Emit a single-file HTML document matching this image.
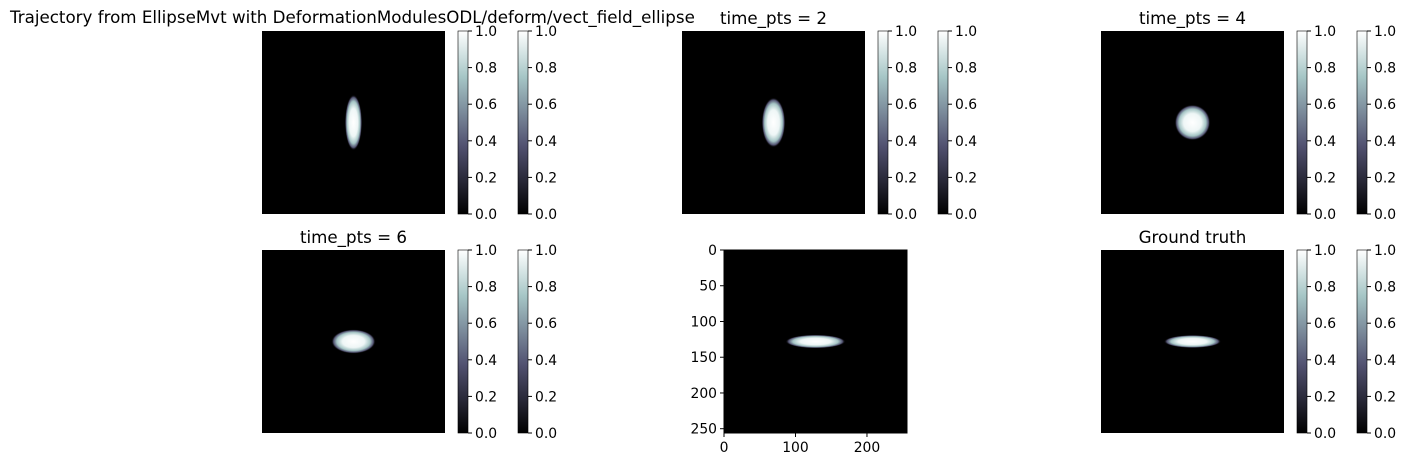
<!DOCTYPE html>
<html><head><meta charset="utf-8">
<style>
html,body{margin:0;padding:0;background:#fff;}
svg{display:block;font-family:"DejaVu Sans","Liberation Sans",sans-serif;}
</style></head>
<body>
<svg id="fig" width="1408" height="467" viewBox="0 0 1408 467" xmlns="http://www.w3.org/2000/svg">
<defs>
<linearGradient id="bone" x1="0" y1="1" x2="0" y2="0">
<stop offset="0" stop-color="#000000"/>
<stop offset="0.375" stop-color="#525271"/>
<stop offset="0.75" stop-color="#a6c6c6"/>
<stop offset="1" stop-color="#ffffff"/>
</linearGradient>
<radialGradient id="blob">
<stop offset="0" stop-color="#ffffff"/>
<stop offset="0.5" stop-color="#eef6f6"/>
<stop offset="0.75" stop-color="#a6c6c6"/>
<stop offset="0.9" stop-color="#525271"/>
<stop offset="1" stop-color="#000000" stop-opacity="0"/>
</radialGradient>
</defs>
<text x="10" y="23" font-size="16.7" fill="#000">Trajectory from EllipseMvt with DeformationModulesODL/deform/vect_field_ellipse</text>
</svg>
<script>
// panel data: title, ellipse width/height in pixels (out of 256)
const panelTitles = ["", "time_pts = 2", "time_pts = 4", "time_pts = 6", "", "Ground truth"];
const ellipseWidths = [24, 33, 50, 62, 84, 80];
const ellipseHeights = [78, 70, 50, 34, 19, 18];
const cbTicks = [0.0, 0.2, 0.4, 0.6, 0.8, 1.0];
const axisTicks = [0, 50, 100, 150, 200, 250];
const xAxisTicks = [0, 100, 200];
const imgSize = 256;

const svg = document.getElementById('fig');
const NS = 'http://www.w3.org/2000/svg';
function mk(tag, attrs){const e=document.createElementNS(NS,tag);for(const k in attrs)e.setAttribute(k,attrs[k]);svg.appendChild(e);return e;}

const colX = [262, 682, 1101];
const rowY = [31, 250];
const S = 183;
for(let i=0;i<6;i++){
  const r=Math.floor(i/3), c=i%3;
  let x0=colX[c], y0=rowY[r];
  const axes = (i===4);
  if(axes) x0 = 724;
  const sc = S/imgSize;
  const img = mk('rect',{x:x0,y:y0,width:S,height:S,fill:'#000'});
  
  
  const el = mk('ellipse',{cx:x0+128*sc,cy:y0+128*sc,rx:ellipseWidths[i]*sc/2,ry:ellipseHeights[i]*sc/2,fill:'url(#blob)'});
  
  
  if(panelTitles[i]){
    const t = mk('text',{x:x0+S/2,y:y0-7,'font-size':16.7,'text-anchor':'middle',fill:'#000'});
    t.textContent = panelTitles[i];
    
    
  }
  if(axes){
    mk('rect',{x:x0,y:y0,width:S,height:S,fill:'none',stroke:'#000','stroke-width':1});
    axisTicks.forEach(v=>{
      const y=y0+v*sc;
      mk('line',{x1:x0-4,x2:x0,y1:y,y2:y,stroke:'#000'});
      const t=mk('text',{x:x0-7,y:y+5,'font-size':13.9,'text-anchor':'end',fill:'#000'});
      t.textContent=v;
      
      
    });
    xAxisTicks.forEach(v=>{
      const x=x0+v*sc;
      mk('line',{x1:x,x2:x,y1:y0+S,y2:y0+S+4,stroke:'#000'});
      const t=mk('text',{x:x,y:y0+S+19,'font-size':13.9,'text-anchor':'middle',fill:'#000'});
      t.textContent=v;
      
      
    });
  } else {
    [x0+196, x0+256].forEach((cx,k)=>{
      const cb=mk('rect',{x:cx,y:y0,width:10,height:S,fill:'url(#bone)',stroke:'#000','stroke-width':0.6});
      
      
      cbTicks.forEach(v=>{
        const y=y0+S-v*S;
        mk('line',{x1:cx+10,x2:cx+14,y1:y,y2:y,stroke:'#000'});
        const t=mk('text',{x:cx+17,y:y+5,'font-size':13.9,fill:'#000'});
        t.textContent=v.toFixed(1);
        
        
      });
    });
  }
}
</script>
</body></html>
